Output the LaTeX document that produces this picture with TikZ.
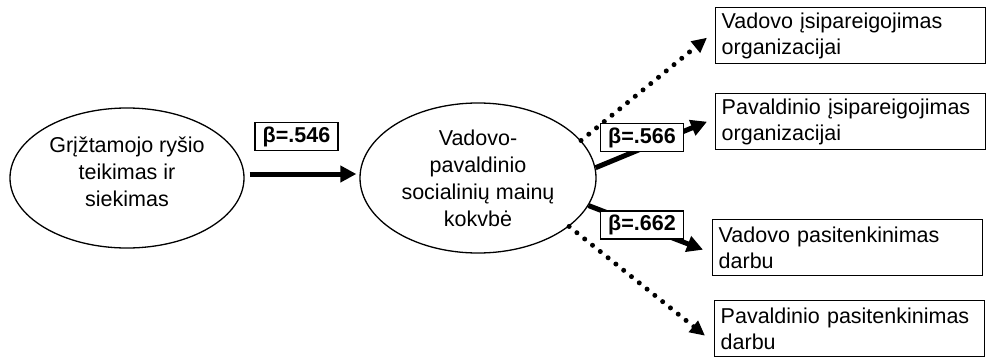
\documentclass[tikz,border=0pt]{standalone}
\usepackage{fontspec}
\setmainfont{Liberation Sans}
\usetikzlibrary{shapes.geometric,arrows.meta,calc}
\newcommand{\lift}[2]{\raisebox{#1}[\height][\depth]{\begin{tabular}{@{}c@{}}#2\end{tabular}}}
\begin{document}
\begin{tikzpicture}[x=1pt,y=-1pt,
  every node/.style={font=\fontsize{21.5}{26}\selectfont},
  oval/.style={draw, ellipse, line width=1.3pt, inner sep=0pt, align=center,
    font=\fontsize{21.5}{27}\selectfont},
  outbox/.style={draw, rectangle, line width=1.4pt, anchor=north west, align=left,
    inner xsep=6pt, inner ysep=0pt, text width=258pt, minimum height=56pt},
  betabox/.style={draw, fill=white, line width=1.5pt, font=\fontsize{21.5}{26}\selectfont\bfseries,
    minimum width=83pt, minimum height=28pt, inner sep=1pt},
  solidarrow/.style={line width=5pt, -{Triangle[length=16pt,width=16pt]}},
  dotarrow/.style={line width=5pt, line cap=round, dash pattern=on 0pt off 10pt,
    -{Triangle[length=15pt,width=14pt]}}
]
\useasboundingbox (0,0) rectangle (987,356);

\node[oval, minimum width=234pt, minimum height=140pt] (src) at (127,178)
  {\lift{4pt}{Grįžtamojo ryšio\\teikimas ir\\siekimas}};
\node[oval, minimum width=236pt, minimum height=150pt] (lmx) at (478,178)
  {Vadovo-\\pavaldinio\\socialinių mainų\\kokvbė};

\node[outbox] (b1) at (715,7) {Vadovo įsipareigojimas\\organizacijai};
\node[outbox] (b2) at (715,93) {Pavaldinio įsipareigojimas\\organizacijai};
\node[outbox] (b3) at (712,219) {Vadovo pasitenkinimas\\darbu};
\node[outbox] (b4) at (714,300) {Pavaldinio pasitenkinimas\\darbu};

\draw[solidarrow] ($(src.east)+(5,-4)$) -- ($(lmx.west)+(-3,-4)$);
\draw[dotarrow] (lmx.20) -- ($(b1.west)+(-8,2)$);
\draw[solidarrow] (lmx.5) -- ($(b2.west)+(-8,0)$);
\draw[solidarrow] (lmx.-14) -- ($(b3.west)+(-9,2)$);
\draw[dotarrow] (lmx.-28) -- ($(b4.west)+(-9,7)$);

\node[betabox] (l546) at (296.5,136.5) {β=.546};
\node[betabox] (l566) at (642,137.5) {β=.566};
\node[betabox] (l662) at (642,225) {β=.662};
\end{tikzpicture}
\end{document}
